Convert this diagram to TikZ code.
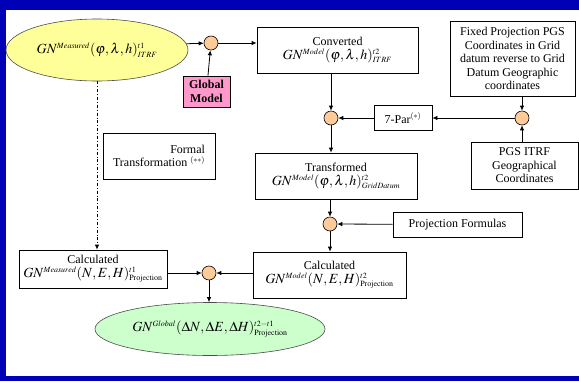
\documentclass[tikz,border=0pt]{standalone}
\usepackage{mathptmx}
\usepackage[no-math]{fontspec}
\setmainfont{Liberation Serif}
\usetikzlibrary{shapes.geometric,arrows.meta}
\DeclareMathSizes{14}{14}{8}{6}
\DeclareMathSizes{12}{12}{8}{6}
\newcommand{\gn}[1]{{\fontsize{14}{16}\selectfont\(#1\)}}
\definecolor{slideblue}{RGB}{0,0,182}
\definecolor{sumorange}{RGB}{255,204,153}
\definecolor{measyellow}{RGB}{255,255,153}
\definecolor{globgreen}{RGB}{204,255,204}
\definecolor{modelpink}{RGB}{255,153,204}
\begin{document}
\begin{tikzpicture}[x=1pt,y=-1pt,
        every node/.style={font=\fontsize{12}{13.5}\selectfont},
        box/.style={draw,line width=0.8pt,align=center,inner sep=1pt},
        sum/.style={circle,draw,line width=0.6pt,fill=sumorange,minimum size=14pt,inner sep=0pt},
        oval/.style={ellipse,draw=black!70,line width=0.6pt,inner sep=0pt},
        flow/.style={-{Latex[length=5pt,width=4.5pt]},line width=0.8pt}]
    \useasboundingbox (0,0) rectangle (579,381);
    \fill[slideblue] (0,0) rectangle (579,381);
    \fill[white] (6,10) rectangle (579,376);
    \draw
        node (Meas) [oval,fill=measyellow,minimum width=182pt,minimum height=62pt] at (97,50)
            {\gn{GN^{Measured}(\varphi,\lambda,h)^{t1}_{ITRF}}}
        node (S1) [sum] at (211,43) {}
        node (Glob) [box,fill=modelpink,minimum width=47pt,minimum height=31pt] at (206.5,91.5)
            {\textbf{Global}\\\textbf{Model}}
        node (Conv) [box,minimum width=161pt,minimum height=46pt] at (337.5,50)
            {Converted\\\gn{GN^{Model}(\varphi,\lambda,h)^{t2}_{ITRF}}}
        node (Fixed) [box,minimum width=125pt,minimum height=75pt] at (512.5,58.5)
            {Fixed Projection PGS\\Coordinates in Grid\\datum reverse to Grid\\Datum Geographic\\coordinates}
        node (S2) [sum] at (331,118) {}
        node (S3) [sum] at (522,118) {}
        node (Par) [box,minimum width=58pt,minimum height=25pt] at (403,118) {7-Par\(^{(*)}\)}
        node (Pgs) [box,minimum width=107pt,minimum height=47pt] at (524.5,165.5)
            {PGS ITRF\\Geographical\\Coordinates}
        node (Formal) [box,align=right,minimum width=112pt,minimum height=46pt] at (159,156)
            {Formal\\Transformation \(^{(**)}\)}
        node (Trans) [box,minimum width=162pt,minimum height=46pt] at (336,176)
            {Transformed\\\gn{GN^{Model}(\varphi,\lambda,h)^{t2}_{GridDatum}}}
        node (S4) [sum] at (330,224) {}
        node (ProjF) [box,minimum width=129pt,minimum height=25pt] at (457.5,224.5) {Projection Formulas}
        node (CalcMod) [box,minimum width=153pt,minimum height=46pt] at (329.5,275)
            {Calculated\\\gn{GN^{Model}(N,E,H)^{t2}_{\mathrm{Projection}}}}
        node (CalcMeas) [box,minimum width=148pt,minimum height=38pt] at (93,269)
            {Calculated\\\makebox[130pt]{\gn{GN^{Measured}(N,E,H)^{t1}_{\mathrm{Projection}}}}}
        node (S5) [sum] at (209,273) {}
        node (Total) [oval,fill=globgreen,minimum width=230pt,minimum height=53pt] at (210,329)
            {\gn{GN^{Global}(\Delta N,\Delta E,\Delta H)^{t2-t1}_{\mathrm{Projection}}}};
    % formal transformation path
    \draw[flow,dash dot] (Meas.south) -- (Meas.south |- CalcMeas.north);
    \path[flow]
        (Meas.4.5) edge (S1)
        (Glob) edge (S1)
        (S1) edge (S1 -| Conv.west)
        (Conv.south -| S2) edge (S2)
        (Fixed.south -| S3) edge (S3)
        (Pgs.north -| S3) edge (S3)
        (S3) edge (Par)
        (Par) edge (S2)
        (S2) edge (S2 |- Trans.north)
        (Trans.south -| S4) edge (S4)
        (ProjF) edge (S4)
        (S4) edge (S4 |- CalcMod.north)
        (CalcMod.west |- S5) edge (S5)
        (CalcMeas.east |- S5) edge (S5)
        (S5) edge (S5 |- Total.north);
\end{tikzpicture}
\end{document}
